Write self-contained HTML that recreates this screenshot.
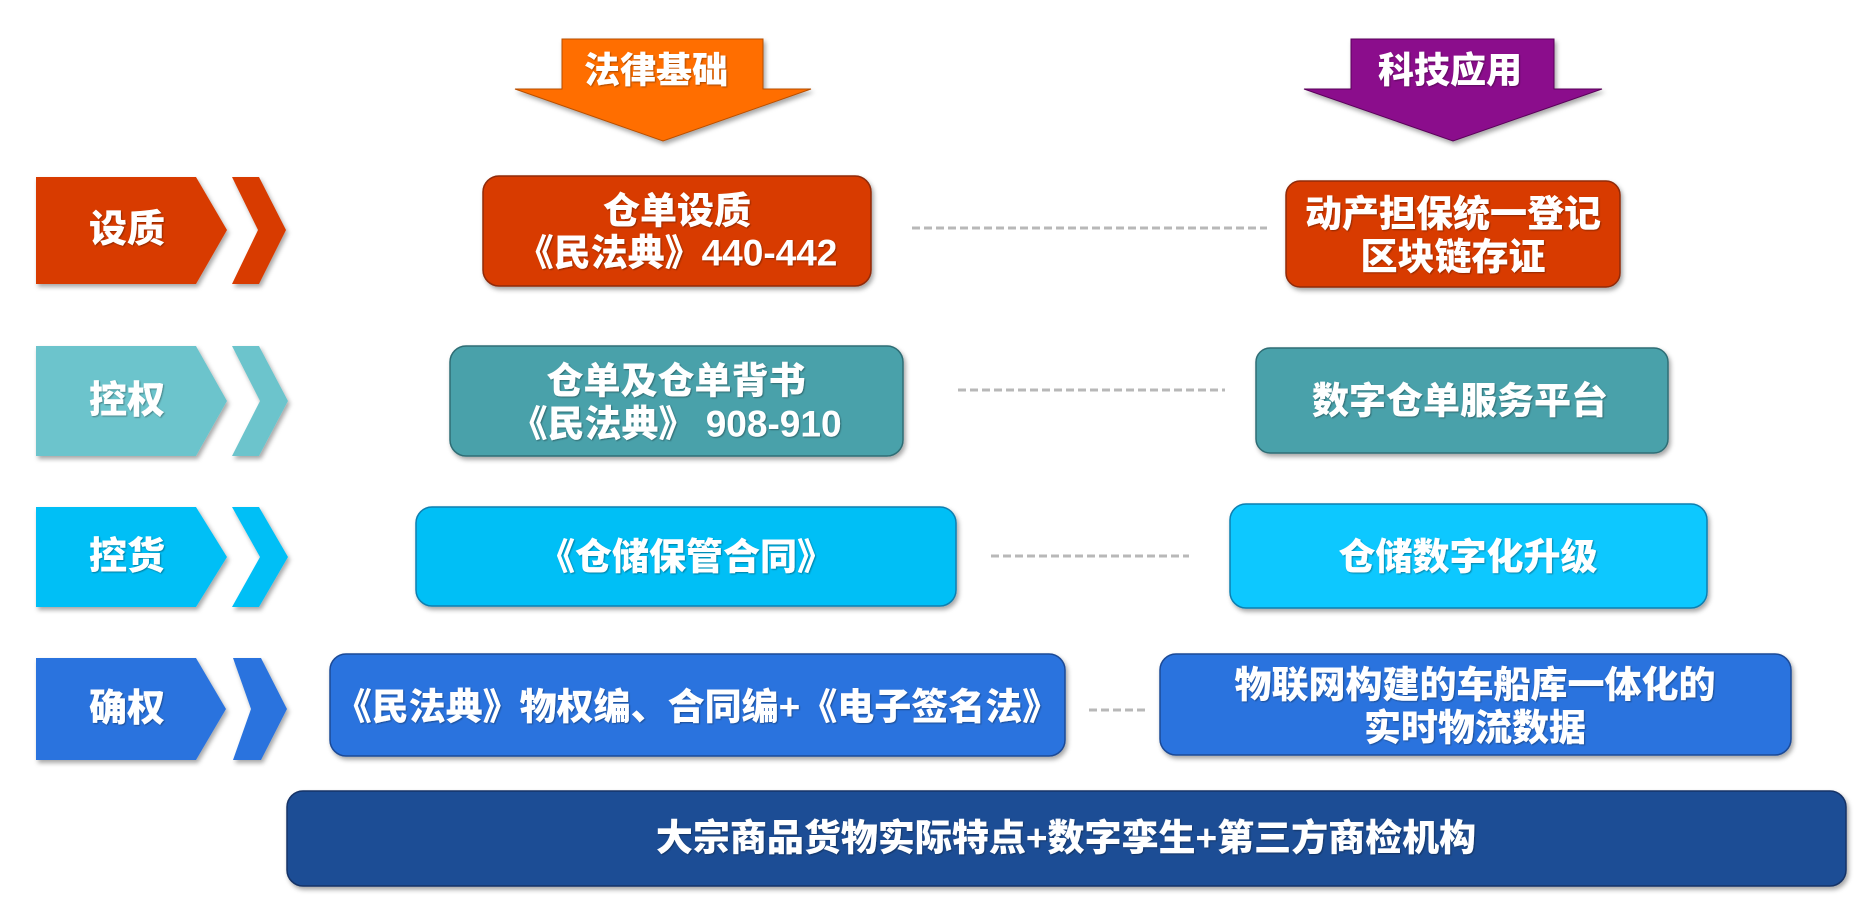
<!DOCTYPE html>
<html><head><meta charset="utf-8"><style>
html,body{margin:0;padding:0;background:#fff;}
svg{display:block}
text{font-family:"Liberation Sans","Noto Sans CJK SC",sans-serif;font-weight:900;fill:#fff;text-anchor:middle;dominant-baseline:central}
</style></head><body>
<svg width="1870" height="902" viewBox="0 0 1870 902">
<defs>
<filter id="sh" x="-10%" y="-10%" width="120%" height="130%"><feDropShadow dx="2" dy="3" stdDeviation="2.5" flood-color="#000" flood-opacity="0.35"/></filter>
<filter id="ts"><feDropShadow dx="1" dy="1" stdDeviation="0.8" flood-color="#000" flood-opacity="0.35"/></filter>
</defs>
<polygon filter="url(#sh)" points="562,39 763,39 763,89 811,89 663,141 515,89 562,89" fill="#ff6e05" stroke="#b74f00" stroke-width="1"/>
<text x="656" y="70" font-size="36" filter="url(#ts)">法律基础</text>
<polygon filter="url(#sh)" points="1351,39 1554,39 1554,89 1602,89 1453,141 1304,89 1351,89" fill="#8b0a8c" stroke="#5a065a" stroke-width="1"/>
<text x="1450" y="70" font-size="36" filter="url(#ts)">科技应用</text>

<g filter="url(#sh)">
<polygon points="36,177 196,177 227,230 196,284 36,284" fill="#d83a05"/>
<polygon points="232,177 259,177 286,230 259,284 232,284 258,230" fill="#d83a05"/>
<polygon points="36,346 196,346 227,401 196,456 36,456" fill="#6cc4cc"/>
<polygon points="232,346 259,346 288,401 259,456 232,456 260,401" fill="#6cc4cc"/>
<polygon points="36,507 196,507 227,557 196,607 36,607" fill="#06bff6"/>
<polygon points="232,507 259,507 288,557 259,607 232,607 260,557" fill="#06bff6"/>
<polygon points="36,658 196,658 226,709 196,760 36,760" fill="#2a73de"/>
<polygon points="233,658 261,658 287,709 261,760 233,760 251,709" fill="#2a73de"/>
</g>
<g font-size="38" filter="url(#ts)">
<text x="127" y="230">设质</text>
<text x="127" y="401">控权</text>
<text x="127" y="557">控货</text>
<text x="127" y="709">确权</text>
</g>

<g stroke="#b8b8b8" stroke-width="3" stroke-dasharray="8,4">
<line x1="912" y1="228" x2="1267" y2="228"/>
<line x1="958" y1="390" x2="1225" y2="390"/>
<line x1="991" y1="556" x2="1189" y2="556"/>
<line x1="1089" y1="710" x2="1145" y2="710"/>
</g>

<g filter="url(#sh)" stroke-width="1.5">
<rect x="483" y="176" width="388" height="110" rx="16" fill="#d83a05" stroke="#8f2a07"/>
<rect x="1286" y="181" width="334" height="106" rx="14" fill="#d83a05" stroke="#8f2a07"/>
<rect x="450" y="346" width="453" height="110" rx="16" fill="#4aa1aa" stroke="#2f6d74"/>
<rect x="1256" y="348" width="412" height="105" rx="14" fill="#4aa1aa" stroke="#2f6d74"/>
<rect x="416" y="507" width="540" height="99" rx="16" fill="#06bff6" stroke="#0a7fb0"/>
<rect x="1230" y="504" width="477" height="104" rx="16" fill="#0cc8ff" stroke="#0a7fb0"/>
<rect x="330" y="654" width="735" height="102" rx="16" fill="#2a73de" stroke="#1a4a96"/>
<rect x="1160" y="654" width="631" height="101" rx="16" fill="#2a73de" stroke="#1a4a96"/>
<rect x="287" y="791" width="1559" height="95" rx="16" fill="#1d4d95" stroke="#123366"/>
</g>
<g font-size="37" filter="url(#ts)">
<text x="677" y="211">仓单设质</text>
<text x="677" y="253">《民法典》440-442</text>
<text x="1453" y="214">动产担保统一登记</text>
<text x="1453" y="257">区块链存证</text>
<text x="676" y="381">仓单及仓单背书</text>
<text x="676" y="424">《民法典》 908-910</text>
<text x="1460" y="401">数字仓单服务平台</text>
<text x="686" y="557">《仓储保管合同》</text>
<text x="1468" y="557">仓储数字化升级</text>
<text x="697" y="707">《民法典》物权编、合同编+《电子签名法》</text>
<text x="1475" y="685">物联网构建的车船库一体化的</text>
<text x="1475" y="728">实时物流数据</text>
<text x="1066" y="838">大宗商品货物实际特点+数字孪生+第三方商检机构</text>
</g>
</svg>
</body></html>
